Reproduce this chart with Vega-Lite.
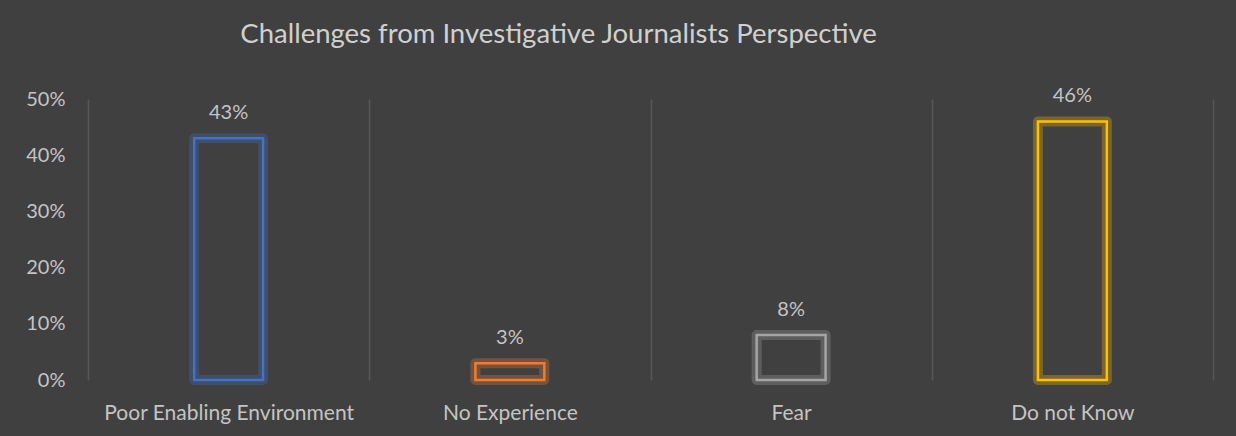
{
  "$schema": "https://vega.github.io/schema/vega-lite/v6.json",
  "autosize": {"type": "none"},
  "padding": {"left": 88, "top": 99, "right": 23, "bottom": 56},
  "width": 1125,
  "height": 281,
  "background": "#404040",
  "config": {"view": {"stroke": null}},
  "title": {
    "text": "Challenges from Investigative Journalists Perspective",
    "font": "Lato",
    "fontSize": 27.5,
    "fontWeight": "normal",
    "color": "#d0d0d0",
    "anchor": "middle",
    "frame": "group",
    "dx": -92,
    "offset": 38
  },
  "data": {
    "values": [
      {"category": "Poor Enabling Environment", "value": 0.43, "label": "43%"},
      {"category": "No Experience", "value": 0.03, "label": "3%"},
      {"category": "Fear", "value": 0.08, "label": "8%"},
      {"category": "Do not Know", "value": 0.46, "label": "46%"}
    ]
  },
  "encoding": {
    "x": {
      "field": "category",
      "type": "nominal",
      "sort": null,
      "scale": {"paddingInner": 0, "paddingOuter": 0},
      "axis": {
        "title": null,
        "labelAngle": 0,
        "labelFont": "Lato",
        "labelFontSize": 21,
        "labelColor": "#c4c4c4",
        "labelPadding": 22,
        "labelLimit": 0,
        "labelBaseline": "top",
        "ticks": false,
        "domain": false,
        "grid": true,
        "tickBand": "extent",
        "gridColor": "#575757",
        "gridWidth": 1.5
      }
    },
    "y": {
      "field": "value",
      "type": "quantitative",
      "scale": {"domain": [0, 0.5]},
      "axis": {
        "title": null,
        "format": ".0%",
        "values": [0, 0.1, 0.2, 0.3, 0.4, 0.5],
        "labelOverlap": false,
        "labelFlush": false,
        "labelFont": "Lato",
        "labelFontSize": 20,
        "labelColor": "#c4c4c4",
        "labelPadding": 23,
        "ticks": false,
        "domain": false,
        "grid": false
      }
    }
  },
  "layer": [
    {
      "mark": {"type": "bar", "width": {"band": 0.245}, "fill": null, "fillOpacity": 0, "strokeWidth": 10, "strokeOpacity": 0.3, "strokeJoin": "round"},
      "encoding": {"stroke": {"field": "category", "type": "nominal", "sort": null, "scale": {"domain": ["Poor Enabling Environment", "No Experience", "Fear", "Do not Know"], "range": ["#4472c4", "#ed7d31", "#a5a5a5", "#ffc000"]}, "legend": null}}
    },
    {
      "mark": {"type": "bar", "width": {"band": 0.245}, "fill": null, "fillOpacity": 0, "strokeWidth": 2.5, "strokeJoin": "miter"},
      "encoding": {"stroke": {"field": "category", "type": "nominal", "sort": null, "legend": null}}
    },
    {
      "mark": {"type": "text", "font": "Lato", "fontSize": 20, "baseline": "middle", "dy": -25},
      "encoding": {"text": {"field": "label"}, "color": {"value": "#c4c4c4"}}
    }
  ]
}
